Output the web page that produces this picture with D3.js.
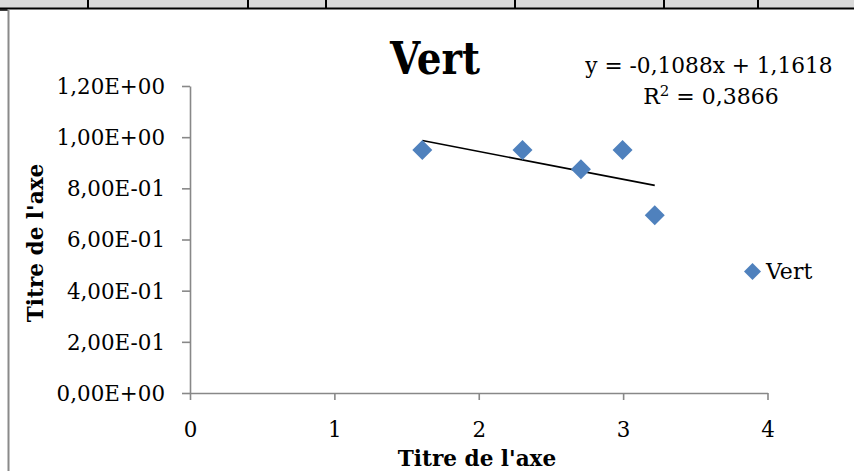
<!DOCTYPE html>
<html>
<head>
<meta charset="utf-8">
<script src="https://cdn.jsdelivr.net/npm/d3@7"></script>
<style>
  html, body { margin: 0; padding: 0; background: #ffffff; }
  svg { display: block; }
  text { font-family: "DejaVu Serif", serif; fill: #000; }
</style>
</head>
<body>
<svg id="chart" width="854" height="471"></svg>
<script>
// Series "Vert": x is ln of the dilution steps, y the measured titre
const xValues = [1.609, 2.303, 2.708, 2.996, 3.219];
const yValues = [0.950, 0.950, 0.875, 0.950, 0.695];

// Linear trend line shown on the chart
const trendSlope = -0.1088;
const trendIntercept = 1.1618;
const trendR2 = 0.3866;

// Axis ticks
const xTicks = [0, 1, 2, 3, 4];
const yTicks = [0, 0.2, 0.4, 0.6, 0.8, 1.0, 1.2];

const seriesName = "Vert";
const chartTitle = "Vert";
const xAxisTitle = "Titre de l'axe";
const yAxisTitle = "Titre de l'axe";

// Spreadsheet-style column separators of the strip above the chart
const stripSeparators = [88, 248, 326, 515, 664, 758];

const svg = d3.select("#chart");

// narrow the serif glyphs a little so they take less width
function condense(sel, ratio) {
  sel.each(function () {
    const w = this.getComputedTextLength();
    d3.select(this).attr("textLength", w * ratio).attr("lengthAdjust", "spacingAndGlyphs");
  });
}

// ---- strip of the worksheet grid above the chart frame
svg.append("rect").attr("x", 0).attr("y", 0).attr("width", 854).attr("height", 8)
  .attr("fill", "#d9d9d9");
svg.selectAll("line.sep").data(stripSeparators).join("line")
  .attr("class", "sep")
  .attr("x1", d => d).attr("x2", d => d).attr("y1", 0).attr("y2", 8)
  .attr("stroke", "#000").attr("stroke-width", 2);
svg.append("line").attr("x1", 0).attr("x2", 854).attr("y1", 8.5).attr("y2", 8.5)
  .attr("stroke", "#000").attr("stroke-width", 2);
svg.append("line").attr("x1", 0).attr("x2", 8).attr("y1", 10).attr("y2", 10)
  .attr("stroke", "#000").attr("stroke-width", 1.5);
// left frame of the chart object
svg.append("line").attr("x1", 8.5).attr("x2", 8.5).attr("y1", 9).attr("y2", 471)
  .attr("stroke", "#8a8a8a").attr("stroke-width", 2);

// ---- scales
const x = d3.scaleLinear().domain([0, 4]).range([190, 767.5]);
const y = d3.scaleLinear().domain([0, 1.2]).range([393, 86]);

// Excel-like scientific format: 1,20E+00 / 8,00E-01
function sci(v) {
  if (v === 0) return "0,00E+00";
  const e = Math.floor(Math.log10(Math.abs(v)) + 1e-9);
  const m = v / Math.pow(10, e);
  const sign = e < 0 ? "-" : "+";
  return m.toFixed(2).replace(".", ",") + "E" + sign + String(Math.abs(e)).padStart(2, "0");
}

const axisColor = "#888888";

// ---- y axis
const gy = svg.append("g").attr("transform", `translate(${x(0)},0)`)
  .call(d3.axisLeft(y).tickValues(yTicks).tickFormat(sci).tickSize(8).tickSizeOuter(0).tickPadding(17));
// ---- x axis
const gx = svg.append("g").attr("transform", `translate(0,${y(0)})`)
  .call(d3.axisBottom(x).tickValues(xTicks).tickFormat(d3.format("d")).tickSize(7).tickSizeOuter(0).tickPadding(21));

[gx, gy].forEach(g => {
  g.select(".domain").attr("stroke", axisColor).attr("stroke-width", 1.6);
  g.selectAll(".tick line").attr("stroke", axisColor).attr("stroke-width", 1.6);
  g.selectAll(".tick text").attr("font-family", "DejaVu Serif").attr("font-size", 23).attr("fill", "#000");
  condense(g.selectAll(".tick text"), 0.93);
});

// ---- axis titles
condense(svg.append("text")
  .attr("x", 477).attr("y", 466)
  .attr("text-anchor", "middle")
  .attr("font-size", 22).attr("font-weight", "bold")
  .text(xAxisTitle), 0.98);
condense(svg.append("text")
  .attr("transform", "translate(43,243) rotate(-90)")
  .attr("text-anchor", "middle")
  .attr("font-size", 22).attr("font-weight", "bold")
  .text(yAxisTitle), 0.98);

// ---- chart title
svg.append("text")
  .attr("x", 435).attr("y", 74)
  .attr("text-anchor", "middle")
  .attr("font-size", 45).attr("font-weight", "bold")
  .attr("textLength", 90).attr("lengthAdjust", "spacingAndGlyphs")
  .text(chartTitle);

// ---- trend line over the data range
const xMin = d3.min(xValues), xMax = d3.max(xValues);
const trendPts = [xMin, xMax].map(v => [v, trendSlope * v + trendIntercept]);
svg.append("path")
  .datum(trendPts)
  .attr("d", d3.line().x(d => x(d[0])).y(d => y(d[1])))
  .attr("fill", "none").attr("stroke", "#000").attr("stroke-width", 1.6);

// ---- data markers (square turned 45°)
const markerColor = "#4f81bd";
const diamond = d3.symbol().type(d3.symbolSquare).size(200);
svg.selectAll("path.pt").data(xValues.map((v, i) => [v, yValues[i]])).join("path")
  .attr("class", "pt")
  .attr("d", diamond)
  .attr("transform", d => `translate(${x(d[0])},${y(d[1])}) rotate(45)`)
  .attr("fill", markerColor);

// ---- trend equation
const fmt4 = v => v.toFixed(4).replace(".", ",");
const eqText = `y = ${trendSlope < 0 ? "-" : ""}${fmt4(Math.abs(trendSlope))}x + ${fmt4(trendIntercept)}`;
condense(svg.append("text")
  .attr("x", 709).attr("y", 73)
  .attr("text-anchor", "middle")
  .attr("font-size", 22)
  .text(eqText), 0.985);
const r2 = svg.append("text")
  .attr("x", 711).attr("y", 104)
  .attr("text-anchor", "middle")
  .attr("font-size", 22);
r2.append("tspan").text("R");
r2.append("tspan").attr("font-size", 15).attr("dy", -8).text("2");
r2.append("tspan").attr("dy", 8).text(" = " + fmt4(trendR2));

// ---- legend
svg.append("path")
  .attr("d", d3.symbol().type(d3.symbolSquare).size(144))
  .attr("transform", "translate(752.5,271.5) rotate(45)")
  .attr("fill", markerColor);
svg.append("text")
  .attr("x", 766).attr("y", 279)
  .attr("font-size", 22)
  .text(seriesName);
</script>
</body>
</html>
